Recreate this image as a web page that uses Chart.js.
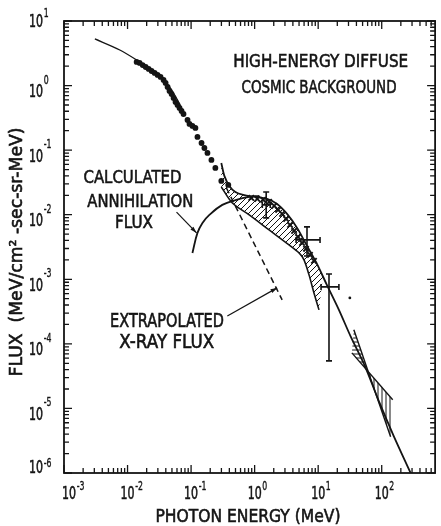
<!DOCTYPE html>
<html>
<head>
<meta charset="utf-8">
<title>High-energy diffuse cosmic background</title>
<script src="https://cdn.jsdelivr.net/npm/chart.js"></script>
<style>
  html, body { margin: 0; padding: 0; background: #fff; }
  canvas { display: block; }
</style>
</head>
<body>
<canvas id="chart" width="441" height="526"></canvas>
<script>
// Values: photon energy (MeV), flux (MeV/cm2-sec-sr-MeV)

// Low-energy X-ray fit
const xrayFitE = [0.00306, 0.00755, 0.0139, 0.0267, 0.0411, 0.0612, 0.0789];
const xrayFitF = [5.27, 3.56, 2.49, 1.62, 1.10, 0.598, 0.351];

// Total spectrum (upper edge of the band, then the steep tail)
const totalE = [0.299, 0.334, 0.400, 0.497, 0.662, 1.02, 1.57, 2.26, 3.24, 4.66, 6.67, 9.57,
                13.7, 21.2, 32.7, 54.2, 89.8, 154, 285];
const totalF = [0.0634, 0.0399, 0.0279, 0.0225, 0.0203, 0.0189, 0.0176, 0.0147, 0.0103, 0.00625, 0.00329, 0.00173,
                0.000819, 0.000336, 0.000128, 4.56e-5, 1.31e-5, 3.77e-6, 1.0e-6];

// Lower edge of the hatched band
const lowerE = [0.299, 0.446, 0.822, 1.69, 3.48, 5.00, 5.98, 7.18, 8.59, 10.3];
const lowerF = [0.0269, 0.0152, 0.00993, 0.00582, 0.00341, 0.00256, 0.00200, 0.00117, 0.000615, 0.000336];
const bandTipE = 11.9;
const bandTipF = 0.00109;

// Calculated annihilation flux
const annE = [0.105, 0.126, 0.151, 0.194, 0.310, 0.515, 0.822, 1.18];
const annF = [0.00256, 0.00523, 0.00747, 0.00993, 0.0142, 0.0170, 0.0189, 0.0196];

// Extrapolated X-ray flux (dashed)
const extrapE = [0.359, 2.71];
const extrapF = [0.0260, 0.000480];

// High-energy bow tie (two spectral fits crossing at a pivot)
const tieSteepE = [36.4, 138];
const tieSteepF = [0.000165, 3.63e-6];
const tieFlatE = [33.9, 149];
const tieFlatF = [7.26e-5, 1.36e-5];
const tiePivotE = 61.4;
const tiePivotF = 3.69e-5;

// Measured points (filled circles)
const dotE = [0.0139, 0.0155, 0.0173, 0.0193, 0.0215, 0.0239, 0.0267, 0.0297, 0.0331, 0.0369,
              0.0397, 0.0427, 0.0458, 0.0493, 0.0530, 0.0569, 0.0612, 0.0658, 0.0708, 0.0760,
              0.0879, 0.0944, 0.105, 0.117, 0.126, 0.146, 0.162, 0.181, 0.209, 0.241, 0.299, 0.385];
const dotF = [2.32, 2.24, 2.08, 1.94, 1.81, 1.68, 1.57, 1.46, 1.36, 1.22,
              1.10, 0.950, 0.824, 0.741, 0.643, 0.557, 0.501, 0.450, 0.404, 0.363,
              0.293, 0.255, 0.237, 0.221, 0.160, 0.129, 0.108, 0.0906, 0.0705, 0.0530, 0.0334, 0.0289];

// Measured points (crosses) in the MeV region
const crossE = [0.885, 1.10, 1.36, 1.69, 2.03, 2.34, 2.71, 3.13, 3.61, 4.18, 4.82, 5.57, 6.44, 7.43, 8.59];
const crossF = [0.0182, 0.0176, 0.0170, 0.0158, 0.0137, 0.0119, 0.0103, 0.00861, 0.00695, 0.00561,
                0.00453, 0.00366, 0.00296, 0.00239, 0.00193];

// Error bars
const errE = [1.52, 6.67, 14.8];
const errF = [0.0142, 0.00407, 0.000762];
const errElo = [1.32, 4.49, 11.1];
const errEhi = [1.76, 10.7, 21.2];
const errFlo = [0.00892, 0.00230, 5.46e-5];
const errFhi = [0.0225, 0.00647, 0.00121];

// Single isolated point
const loneE = [31.5];
const loneF = [0.000515];

// Label pointers (tail, head)
const annArrowE = [0.0590, 0.122];
const annArrowF = [0.0110, 0.00523];
const xrayArrowE = [0.372, 2.26];
const xrayArrowF = [0.000271, 0.000736];

// Tick label exponents
const xTickExp = [-3, -2, -1, 0, 1, 2];
const yTickExp = [-6, -5, -4, -3, -2, -1, 0, 1];

const INK = '#141414';
const FONT = '"DejaVu Sans", sans-serif';

const canvas = document.getElementById('chart');
const ctx = canvas.getContext('2d');

function pts(es, fs) {
    return es.map((e, i) => ({ x: e, y: fs[i] }));
}

// Hatch fill patterns
function hatch(kind, step) {
    const c = document.createElement('canvas');
    c.width = step;
    c.height = step;
    const g = c.getContext('2d');
    g.strokeStyle = INK;
    g.lineWidth = 1;
    g.beginPath();
    if (kind === '/') {
        g.moveTo(0, step); g.lineTo(step, 0);
        g.moveTo(-1, 1); g.lineTo(1, -1);
        g.moveTo(step - 1, step + 1); g.lineTo(step + 1, step - 1);
    } else if (kind === '-') {
        g.moveTo(0, step / 2); g.lineTo(step, step / 2);
    } else {
        g.moveTo(step / 2, 0); g.lineTo(step / 2, step);
    }
    g.stroke();
    return ctx.createPattern(c, 'repeat');
}

const bandPoly = pts(totalE.slice(0, 12), totalF.slice(0, 12))
    .concat([{ x: bandTipE, y: bandTipF }])
    .concat(pts(lowerE, lowerF).reverse());

const pivot = { x: tiePivotE, y: tiePivotF };
const tieLeft = [{ x: tieSteepE[0], y: tieSteepF[0] }, { x: tieFlatE[0], y: tieFlatF[0] }, pivot];
const tieRight = [pivot, { x: tieFlatE[1], y: tieFlatF[1] }, { x: tieSteepE[1], y: tieSteepF[1] }];

function curve(data, extra) {
    return Object.assign({
        data: data,
        borderColor: INK,
        borderWidth: 1.8,
        pointRadius: 0,
        fill: false,
        tension: 0.3
    }, extra || {});
}

function area(data, pattern) {
    return {
        data: data,
        borderWidth: 0,
        borderColor: 'rgba(0,0,0,0)',
        backgroundColor: pattern,
        pointRadius: 0,
        fill: 'shape',
        tension: 0
    };
}

const datasets = [
    curve(pts(xrayFitE, xrayFitF), { borderWidth: 1.3 }),
    curve(pts(totalE, totalF)),
    curve(pts(lowerE, lowerF), { borderWidth: 1.6 }),
    curve(pts(annE, annF), { tension: 0.4 }),
    curve(pts(extrapE, extrapF), { borderWidth: 1.5, borderDash: [6, 4], tension: 0 }),
    curve(pts(tieSteepE, tieSteepF), { borderWidth: 1.4, tension: 0 }),
    curve(pts(tieFlatE, tieFlatF), { borderWidth: 1.4, tension: 0 }),
    area(bandPoly, hatch('/', 6)),
    area(tieLeft, hatch('-', 4)),
    area(tieRight, hatch('|', 4)),
    {
        data: pts(dotE, dotF),
        showLine: false,
        pointRadius: 2.9,
        pointBackgroundColor: INK,
        pointBorderWidth: 0
    },
    {
        data: pts(loneE, loneF),
        showLine: false,
        pointRadius: 1.4,
        pointBackgroundColor: INK,
        pointBorderWidth: 0
    },
    {
        data: pts(crossE, crossF),
        showLine: false,
        pointStyle: 'crossRot',
        pointRadius: 3.8,
        pointBorderColor: INK,
        pointBorderWidth: 1.9
    }
];

// Text squeezed to the width of the original lettering, slightly heavier strokes
function fitText(c, str, x, y, cap, width, angle, align) {
    c.save();
    c.font = (cap / 0.73).toFixed(1) + 'px ' + FONT;
    const w = c.measureText(str).width;
    c.translate(x, y);
    if (angle) c.rotate(angle);
    c.scale(width / w, 1);
    c.textAlign = align || 'center';
    c.textBaseline = 'alphabetic';
    c.lineWidth = 0.6;
    c.fillText(str, 0, 0);
    c.strokeText(str, 0, 0);
    c.restore();
}

function powerLabel(c, exp, left, base, supBase) {
    c.save();
    c.font = '17px ' + FONT;
    const sx = 14 / c.measureText('10').width;
    c.translate(left, 0);
    c.scale(sx, 1);
    c.textAlign = 'left';
    c.textBaseline = 'alphabetic';
    c.lineWidth = 0.6;
    c.fillText('10', 0, base);
    c.strokeText('10', 0, base);
    c.font = '12px ' + FONT;
    c.lineWidth = 0.4;
    c.fillText(String(exp), 14 / sx + 1, supBase);
    c.strokeText(String(exp), 14 / sx + 1, supBase);
    c.restore();
}

function arrow(c, x1, y1, x2, y2) {
    const ang = Math.atan2(y2 - y1, x2 - x1);
    c.beginPath();
    c.moveTo(x1, y1);
    c.lineTo(x2, y2);
    c.stroke();
    c.beginPath();
    c.moveTo(x2, y2);
    c.lineTo(x2 - 7 * Math.cos(ang - 0.3), y2 - 7 * Math.sin(ang - 0.3));
    c.lineTo(x2 - 7 * Math.cos(ang + 0.3), y2 - 7 * Math.sin(ang + 0.3));
    c.closePath();
    c.fill();
}

const inkPlugin = {
    id: 'ink',
    afterDatasetsDraw(chart) {
        const c = chart.ctx;
        const a = chart.chartArea;
        const xs = chart.scales.x;
        const ys = chart.scales.y;
        c.save();
        c.strokeStyle = INK;
        c.fillStyle = INK;

        // Error bars
        c.lineWidth = 1.6;
        errE.forEach((e, i) => {
            const px = xs.getPixelForValue(e);
            const py = ys.getPixelForValue(errF[i]);
            const x1 = xs.getPixelForValue(errElo[i]);
            const x2 = xs.getPixelForValue(errEhi[i]);
            const y1 = ys.getPixelForValue(errFlo[i]);
            const y2 = ys.getPixelForValue(errFhi[i]);
            c.beginPath();
            c.moveTo(px, y1); c.lineTo(px, y2);
            c.moveTo(x1, py); c.lineTo(x2, py);
            c.moveTo(px - 3, y1); c.lineTo(px + 3, y1);
            c.moveTo(px - 3, y2); c.lineTo(px + 3, y2);
            c.moveTo(x1, py - 3); c.lineTo(x1, py + 3);
            c.moveTo(x2, py - 3); c.lineTo(x2, py + 3);
            c.stroke();
        });

        // Pointers from the labels
        c.lineWidth = 1.2;
        arrow(c, xs.getPixelForValue(annArrowE[0]), ys.getPixelForValue(annArrowF[0]),
              xs.getPixelForValue(annArrowE[1]), ys.getPixelForValue(annArrowF[1]));
        arrow(c, xs.getPixelForValue(xrayArrowE[0]), ys.getPixelForValue(xrayArrowF[0]),
              xs.getPixelForValue(xrayArrowE[1]), ys.getPixelForValue(xrayArrowF[1]));

        // Frame
        c.lineWidth = 1.8;
        c.strokeRect(a.left, a.top, a.right - a.left, a.bottom - a.top);

        // Inward ticks on all four sides
        c.lineWidth = 1.3;
        c.beginPath();
        for (let d = xTickExp[0]; d <= xTickExp[xTickExp.length - 1] + 1; d++) {
            for (let m = 1; m <= 9; m++) {
                const v = m * Math.pow(10, d);
                if (v > xs.max) break;
                const px = xs.getPixelForValue(v);
                const len = m === 1 ? 8 : 5;
                c.moveTo(px, a.bottom); c.lineTo(px, a.bottom - len);
                c.moveTo(px, a.top); c.lineTo(px, a.top + len);
            }
        }
        for (let d = yTickExp[0]; d <= yTickExp[yTickExp.length - 1]; d++) {
            for (let m = 1; m <= 9; m++) {
                const v = m * Math.pow(10, d);
                if (v > ys.max) break;
                const py = ys.getPixelForValue(v);
                const len = m === 1 ? 8 : 5;
                c.moveTo(a.left, py); c.lineTo(a.left + len, py);
                c.moveTo(a.right, py); c.lineTo(a.right - len, py);
            }
        }
        c.stroke();

        // Tick labels
        xTickExp.forEach((e, i) => {
            const px = xs.getPixelForValue(Math.pow(10, e)) + (i === 0 ? 5 : 0);
            powerLabel(c, e, px - 7, 499, 490);
        });
        yTickExp.forEach((e, i) => {
            const py = ys.getPixelForValue(Math.pow(10, e));
            let base = py + 11.5;
            let sup = py - 2;
            if (i === 0) { base = py; sup = py - 6; }
            if (i === yTickExp.length - 1) { base = py + 6; sup = py - 4; }
            powerLabel(c, e, 29, base, sup);
        });

        // Axis titles
        fitText(c, 'PHOTON ENERGY (MeV)', 248, 521.5, 13, 185);
        fitText(c, 'FLUX  (MeV/cm² -sec-sr-MeV)', 22, 252, 12.5, 249, -Math.PI / 2);

        // Annotations
        fitText(c, 'HIGH-ENERGY DIFFUSE', 320.7, 66.7, 13.3, 175);
        fitText(c, 'COSMIC BACKGROUND', 319, 93, 13.5, 155);
        fitText(c, 'CALCULATED', 132.5, 183.3, 13.3, 98);
        fitText(c, 'ANNIHILATION', 140.3, 207.3, 13.3, 106);
        fitText(c, 'FLUX', 134, 228, 13.3, 38);
        fitText(c, 'EXTRAPOLATED', 167, 326.7, 14, 114);
        fitText(c, 'X-RAY FLUX', 166.7, 348.3, 14, 95);

        c.restore();
    }
};

new Chart(ctx, {
    type: 'line',
    data: { datasets: datasets },
    options: {
        responsive: false,
        animation: false,
        events: [],
        layout: { padding: { top: 21, right: 4, left: 0, bottom: 0 } },
        plugins: {
            legend: { display: false },
            tooltip: { enabled: false }
        },
        scales: {
            x: {
                type: 'logarithmic',
                min: 1e-3,
                max: 692,
                grid: { display: false, drawTicks: false },
                border: { display: false },
                ticks: { display: false },
                afterFit: s => { s.height = 53; }
            },
            y: {
                type: 'logarithmic',
                min: 1e-6,
                max: 10,
                grid: { display: false, drawTicks: false },
                border: { display: false },
                ticks: { display: false },
                afterFit: s => { s.width = 64; }
            }
        }
    },
    plugins: [inkPlugin]
});
</script>
</body>
</html>
